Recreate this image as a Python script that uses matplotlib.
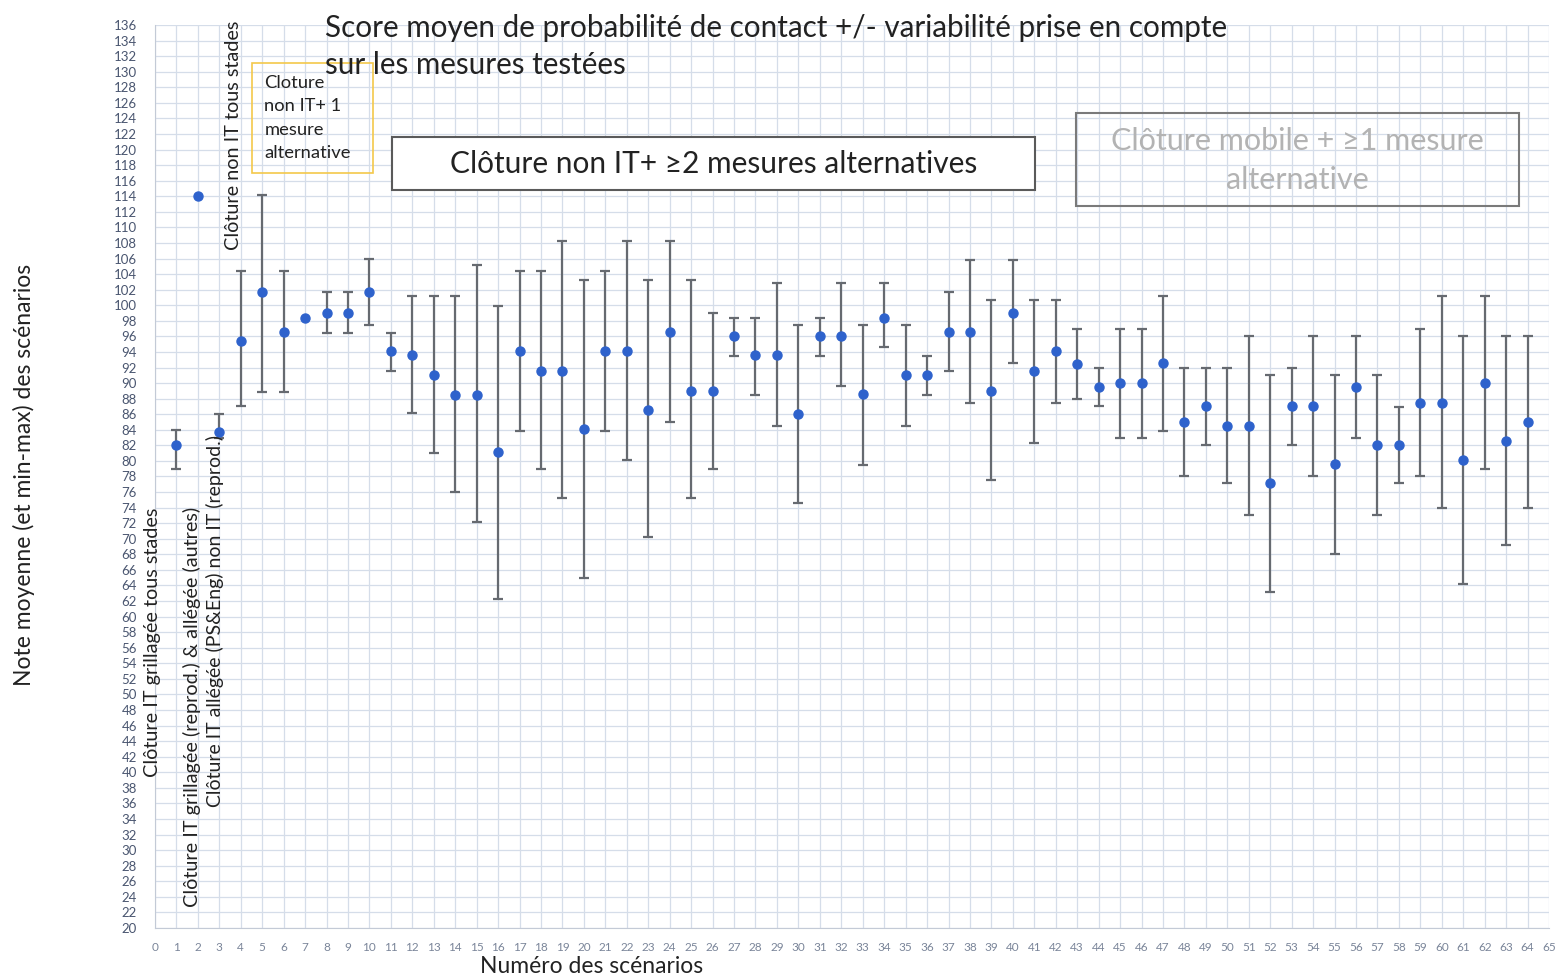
import numpy as np
import matplotlib
matplotlib.use("Agg")
import matplotlib.pyplot as plt
from matplotlib.patches import Rectangle

plt.rcParams['font.family'] = ['Lato', 'DejaVu Sans']

# scenario number, mean score, min, max (None = no bar drawn)
scenarios = list(range(1, 65))
means = [82.0, 114.0, 83.7, 95.4, 101.7, 96.5, 98.4, 99.0, 99.0, 101.7,
         94.1, 93.6, 91.0, 88.5, 88.5, 81.1, 94.1, 91.6, 91.6, 84.1,
         94.1, 94.1, 86.5, 96.5, 89.0, 89.0, 96.0, 93.6, 93.6, 86.0,
         96.0, 96.0, 88.6, 98.4, 91.1, 91.1, 96.5, 96.5, 89.0, 99.0,
         91.6, 94.1, 92.5, 89.5, 90.0, 90.0, 92.6, 85.0, 87.1, 84.5,
         84.5, 77.1, 87.1, 87.1, 79.6, 89.5, 82.1, 82.1, 87.5, 87.5,
         80.1, 90.0, 82.5, 85.0]
mins = [79.0, None, 83.0, 87.0, 88.9, 88.9, None, 96.4, 96.4, 97.5,
        91.6, 86.1, 81.0, 76.0, 72.1, 62.2, 83.9, 79.0, 75.2, 65.0,
        83.9, 80.1, 70.2, 85.0, 75.2, 79.0, 93.5, 88.5, 84.5, 74.6,
        93.5, 89.6, 79.5, 94.6, 84.5, 88.5, 91.6, 87.4, 77.5, 92.6,
        82.3, 87.4, 88.0, 87.0, 83.0, 83.0, 83.9, 78.0, 82.1, 77.1,
        73.0, 63.1, 82.1, 78.0, 68.1, 83.0, 73.0, 77.1, 78.0, 74.0,
        64.2, 79.0, 69.2, 74.0]
maxs = [84.0, None, 86.0, 104.4, 114.2, 104.4, None, 101.7, 101.7, 105.9,
        96.4, 101.2, 101.2, 101.2, 105.2, 99.9, 104.4, 104.4, 108.2, 103.2,
        104.4, 108.2, 103.2, 108.2, 103.2, 99.0, 98.3, 98.3, 102.8, 97.5,
        98.3, 102.8, 97.5, 102.8, 97.5, 93.5, 101.7, 105.8, 100.7, 105.8,
        100.7, 100.7, 96.9, 92.0, 96.9, 96.9, 101.2, 92.0, 92.0, 92.0,
        96.0, 91.0, 92.0, 96.0, 91.0, 96.0, 91.0, 86.9, 96.9, 101.2,
        96.0, 101.2, 96.0, 96.0]

title_lines = ["Score moyen de probabilité de contact +/- variabilité prise en compte",
               "sur les mesures testées"]
side_labels = ["Clôture IT grillagée tous stades",
               "Clôture IT grillagée (reprod.) & allégée (autres)",
               "Clôture IT allégée (PS&Eng) non IT (reprod.)",
               "Clôture non IT tous stades"]
box_labels = ["Cloture\nnon IT+ 1\nmesure\nalternative",
              "Clôture non IT+ ≥2 mesures alternatives",
              "Clôture mobile + ≥1 mesure\nalternative"]

fig = plt.figure(figsize=(15.65, 9.76), dpi=100)
ax = fig.add_axes([0.0990, 0.0492, 0.8908, 0.9252])

ax.set_xlim(0, 65)
ax.set_ylim(20, 136)
ax.set_xticks(range(0, 66))
ax.set_yticks(range(20, 137, 2))
ax.grid(True, color='#d5dde9', lw=0.9)
ax.set_axisbelow(True)
for s in ['top', 'right']:
    ax.spines[s].set_visible(False)
for s in ['left', 'bottom']:
    ax.spines[s].set_color('#c3cad6')
ax.tick_params(length=0)
ax.tick_params(axis='y', labelsize=9.5, labelcolor='#4a5670', pad=13)
ax.tick_params(axis='x', labelsize=8.5, labelcolor='#7a8599', pad=10)

# error bars (only where a min/max exists)
idx = [i for i in range(len(scenarios)) if mins[i] is not None]
xs = np.array([scenarios[i] for i in idx])
m = np.array([means[i] for i in idx])
lo = np.array([mins[i] for i in idx])
hi = np.array([maxs[i] for i in idx])
ax.errorbar(xs, m, yerr=[m - lo, hi - m], fmt='none', ecolor='#666a70',
            elinewidth=1.6, capsize=3.5, capthick=1.6, zorder=2)
ax.plot(scenarios, means, 'o', color='#2e62cc', ms=6.5, zorder=3)

ax.set_xlabel("Numéro des scénarios", fontsize=16.5, color='#222222')
ax.xaxis.set_label_coords(0.3135, -0.031)
ax.set_ylabel("Note moyenne (et min-max) des scénarios", fontsize=16.5, color='#222222')
ax.yaxis.set_label_coords(-0.086, 0.502)

# title
ax.text(7.94, 135.6, title_lines[0], fontsize=21.3, color='#222222', va='center', ha='left', clip_on=False, zorder=6)
ax.text(7.94, 130.8, title_lines[1], fontsize=21.3, color='#222222', va='center', ha='left', clip_on=False, zorder=6)

# rotated scenario-group labels
ax.text(-0.12, 39.4, side_labels[0], rotation=90, fontsize=14.3, ha='center', va='bottom', color='#222222', clip_on=False)
ax.text(1.75, 22.7, side_labels[1], rotation=90, fontsize=14.3, ha='center', va='bottom', color='#222222', clip_on=False)
ax.text(2.82, 35.5, side_labels[2], rotation=90, fontsize=14.0, ha='center', va='bottom', color='#222222', clip_on=False)
ax.text(3.66, 107.1, side_labels[3], rotation=90, fontsize=14.3, ha='center', va='bottom', color='#222222', clip_on=False)

# boxes
ax.add_patch(Rectangle((4.54, 117.0), 5.64, 14.1, fill=False, edgecolor='#f4c84a', lw=1.2, zorder=4))
ax.text(5.1, 124.05, box_labels[0], fontsize=13.2, ha='left', va='center', linespacing=1.55, color='#222222', zorder=5)

ax.add_patch(Rectangle((11.07, 114.8), 29.96, 6.8, fill=True, facecolor='white', edgecolor='#5a5a5a', lw=1.5, zorder=4))
ax.text(26.05, 118.2, box_labels[1], fontsize=21.5, ha='center', va='center', color='#222222', zorder=5)

ax.add_patch(Rectangle((42.94, 112.75), 20.64, 11.95, fill=False, edgecolor='#7a7a7a', lw=1.5, zorder=4))
ax.text(53.26, 118.6, box_labels[2], fontsize=22, ha='center', va='center', linespacing=1.45, color='#b3b3b3', zorder=5)

fig.savefig("out.png", dpi=100)
